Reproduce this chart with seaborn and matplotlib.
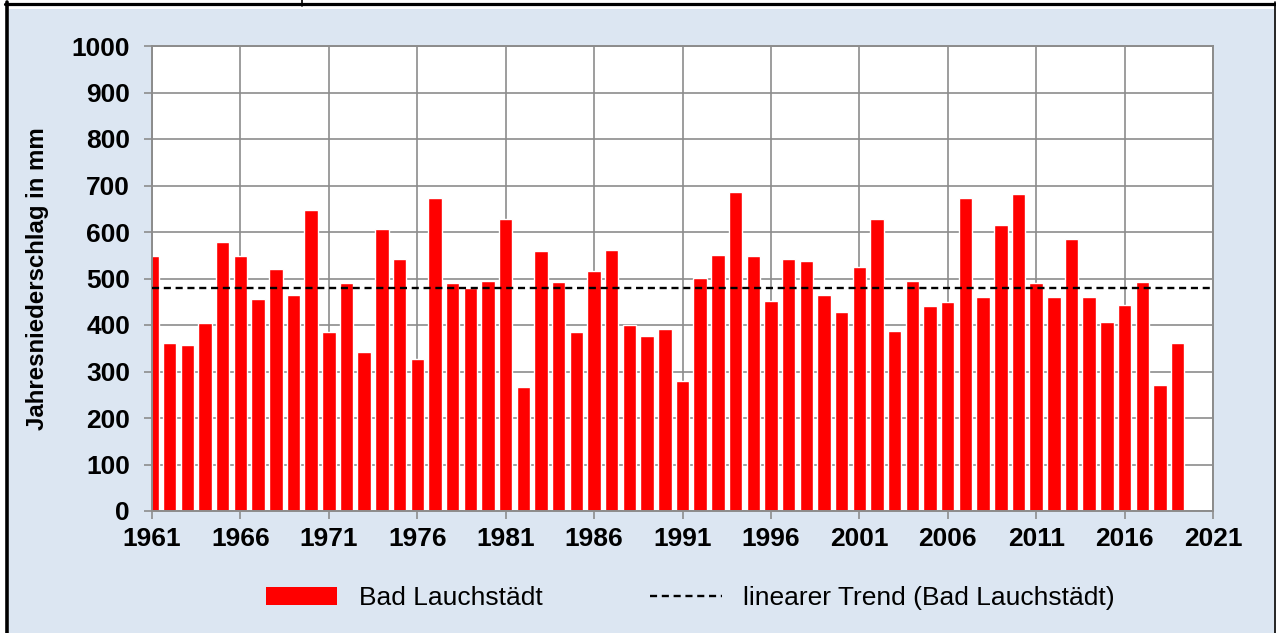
import matplotlib
matplotlib.use("Agg")
import matplotlib.pyplot as plt
from matplotlib.patches import Patch, Rectangle
from matplotlib.lines import Line2D
import numpy as np
import pandas as pd
import seaborn as sns

# annual precipitation Bad Lauchstaedt
years = list(range(1961, 2020))
precip = [549, 362, 358, 404, 578, 549, 456, 520, 465, 647,
          384, 491, 343, 607, 541, 326, 674, 490, 480, 495,
          627, 267, 559, 492, 384, 517, 561, 400, 376, 391,
          279, 501, 551, 687, 548, 452, 543, 538, 464, 429,
          524, 629, 387, 495, 440, 449, 673, 460, 614, 681,
          491, 460, 584, 460, 406, 444, 493, 272, 361]

# linear trend line (as drawn)
trend_years = [1961, 2021]
trend_values = [479, 479]

x_ticks = list(range(1961, 2022, 5))
y_ticks = list(range(0, 1001, 100))

bar_label = "Bad Lauchstädt"
trend_label = "linearer Trend (Bad Lauchstädt)"
y_label = "Jahresniederschlag in mm"

df = pd.DataFrame({"Jahr": years, "Niederschlag": precip})

sns.set_style("white")
plt.rcParams["font.family"] = ["Liberation Sans", "DejaVu Sans"]
plt.rcParams["text.color"] = "black"

W, H = 1276, 633
fig = plt.figure(figsize=(W / 100, H / 100), dpi=100, facecolor="white")

# light blue chart area and black frame lines
fig.patches.append(Rectangle((9 / W, 0), (1274 - 9) / W, (H - 9) / H,
                             transform=fig.transFigure, facecolor="#DCE6F2",
                             edgecolor="none", zorder=-5))
fig.lines.append(Line2D([5 / W, 1], [1 - 3.5 / H, 1 - 3.5 / H], transform=fig.transFigure,
                        color="black", lw=2.3))
fig.lines.append(Line2D([7 / W, 7 / W], [0, 1 - 2 / H], transform=fig.transFigure,
                        color="black", lw=2.6))
fig.lines.append(Line2D([1275 / W, 1275 / W], [0, 1 - 2 / H], transform=fig.transFigure,
                        color="black", lw=1.2))
fig.lines.append(Line2D([302 / W, 302 / W], [1, 1 - 6 / H], transform=fig.transFigure,
                        color="black", lw=1.2))

ax = fig.add_axes([152 / W, 1 - 511 / H, (1213 - 152) / W, (511 - 46) / H])
ax.set_facecolor("white")
ax.set_axisbelow(True)

sns.barplot(data=df, x="Jahr", y="Niederschlag", native_scale=True, color="#FF0000",
            saturation=1, width=0.76, ax=ax, zorder=2)
ax.plot(trend_years, trend_values, color="black", lw=1.7, dashes=(3, 2), zorder=3)

ax.set_xlim(1961, 2021)
ax.set_ylim(0, 1000)
ax.set_xticks(x_ticks)
ax.set_yticks(y_ticks)
ax.set_xticklabels([str(t) for t in x_ticks])

grey = "#8C8C8C"
ax.grid(True, color=grey, lw=1.2)
for s in ax.spines.values():
    s.set_color(grey)
    s.set_linewidth(1.4)
ax.tick_params(axis="both", direction="out", length=5.8, width=1.2, color=grey,
               labelsize=19, labelcolor="black")
ax.tick_params(axis="x", pad=6, bottom=True)
ax.tick_params(axis="y", pad=10, left=True)
for lab in ax.get_xticklabels() + ax.get_yticklabels():
    lab.set_fontweight("bold")

ax.set_xlabel("")
ax.set_ylabel(y_label, fontsize=17.3, fontweight="bold", color="black")
ax.yaxis.set_label_coords(-0.097, 0.5)

handles = [Patch(facecolor="#FF0000", edgecolor="none"),
           Line2D([0], [0], color="black", lw=1.7, dashes=(3, 2))]
fig.legend(handles, [bar_label, trend_label], loc="center",
           bbox_to_anchor=(0.541, 0.055), ncol=2, frameon=False, fontsize=19,
           labelcolor="black", handlelength=2.7, handleheight=0.68,
           handletextpad=0.8, columnspacing=4.1)

fig.savefig("out.png", dpi=100, facecolor=fig.get_facecolor())
